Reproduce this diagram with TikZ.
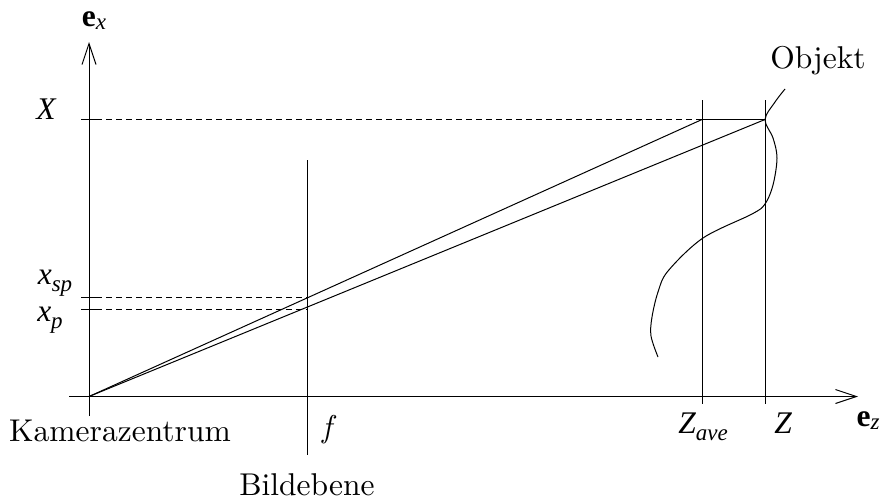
\documentclass[tikz,border=0pt]{standalone}
\usepackage{fontspec}
\setmainfont{lmroman10-regular.otf}[ItalicFont=lmroman10-italic.otf, BoldFont=lmroman10-bold.otf]
\newfontfamily\tms{Liberation Serif}
\usetikzlibrary{arrows.meta}
\newcommand\tmsit[1]{{\tms\itshape #1}}
\newcommand\tmsub[2]{{\tms\itshape #1\raisebox{-0.25em}{\fontsize{23}{26}\selectfont #2}}}
\newcommand\tmsvec[1]{{\tms\bfseries e\raisebox{-0.12em}{\mdseries\itshape\fontsize{23}{26}\selectfont #1}}}
\tikzset{
  ln/.style={line width=1pt},
  dsh/.style={line width=0.9pt, dash pattern=on 6pt off 4pt},
  axisarrow/.style={line width=1pt, -{Straight Barb[length=21pt,width=14pt,line width=1pt]}},
  lbl/.style={anchor=base, inner sep=0pt, font=\fontsize{31.5}{36}\selectfont},
}
\begin{document}
\begin{tikzpicture}[x=1pt,y=-1pt]
\useasboundingbox (0,0) rectangle (882,501);
% coordinates
\coordinate (O) at (89,396.5);
\coordinate (ybot) at (89,416);
\coordinate (ytop) at (89,42);
\coordinate (xleft) at (69,396.5);
\coordinate (xright) at (858,396.5);
\coordinate (Xl) at (81,119.5);
\coordinate (Xr) at (96,119.5);
\coordinate (Pave) at (702,119.5);
\coordinate (PZ) at (765,119.5);
\coordinate (aveT) at (702,100);
\coordinate (aveB) at (702,404);
\coordinate (zT) at (765,100);
\coordinate (zB) at (765,404);
\coordinate (fT) at (307,160);
\coordinate (fB) at (307,455);
\coordinate (spl) at (81,297.5);
\coordinate (spr) at (96,297.5);
\coordinate (pl) at (81,309.5);
\coordinate (pr) at (96,309.5);
\coordinate (spf) at (307,297.5);
\coordinate (pf) at (307,309.5);
% axes
\draw[axisarrow] (ybot) -- (ytop);
\draw[axisarrow] (xleft) -- (xright);
% ticks
\draw[ln] (Xl) -- (Xr);
\draw[ln] (spl) -- (spr);
\draw[ln] (pl) -- (pr);
% dashed
\draw[dsh] (Xr) -- (Pave);
\draw[dsh] (spr) -- (spf);
\draw[dsh] (pr) -- (pf);
% solid segment
\draw[ln] (Pave) -- (PZ);
% verticals
\draw[ln] (aveT) -- (aveB);
\draw[ln] (zT) -- (zB);
\draw[ln] (fT) -- (fB);
% rays
\draw[ln] (O) -- (Pave);
\draw[ln] (O) -- (PZ);
% object curve
\draw[ln] plot[smooth, tension=0.55] coordinates {(785,89) (775,102) (765,119.5) (773,138) (777,158) (773,185) (765,204) (752,214) (703,238) (668,271) (658,292) (652,317) (651,336) (658,357)};
% labels
\node[lbl] (lex) at (94,26) {\tmsvec{x}};
\node[lbl] (lX) at (46,119) {\tmsit{X}};
\node[lbl] (lsp) at (55,284) {\tmsub{x}{sp}};
\node[lbl] (lp) at (50,321) {\tmsub{x}{p}};
\node[lbl] (lkz) at (120,441) {Kamerazentrum};
\node[lbl] (lf) at (327,437) {\itshape f};
\node[lbl] (lbe) at (307,495) {Bildebene};
\node[lbl] (lave) at (703,433) {\tmsub{Z}{ave}};
\node[lbl] (lZ) at (783,433) {\tmsit{Z}};
\node[lbl] (lez) at (868,426) {\tmsvec{z}};
\node[lbl] (lobj) at (818,68) {Objekt};
\end{tikzpicture}
\end{document}
